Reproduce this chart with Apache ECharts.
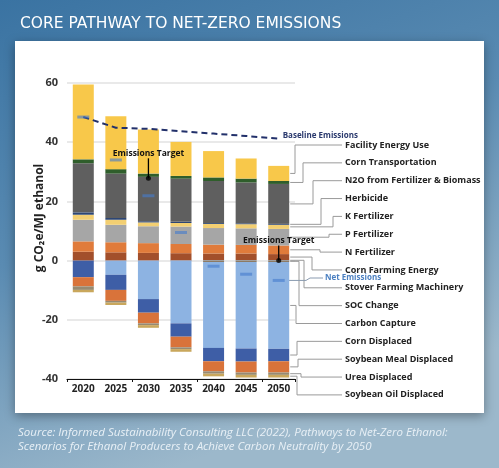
<!DOCTYPE html>
<html>
<head>
<meta charset="utf-8">
<script src="https://cdn.jsdelivr.net/npm/echarts@6/dist/echarts.min.js"></script>
<style>
html, body { margin: 0; padding: 0; }
#chart { width: 499px; height: 468px; }
</style>
</head>
<body>
<div id="chart"></div>
<script>
var years = ['2020', '2025', '2030', '2035', '2040', '2045', '2050'];

// emissions (positive), listed from the bottom of the stack up
var stoverMachinery   = [0, 0, 0, 0, 0.2, 0.2, 0.2];
var cornFarmingEnergy = [3.0, 2.8, 2.6, 2.5, 2.2, 2.2, 2.0];
var nFertilizer       = [3.5, 3.4, 3.3, 3.1, 3.0, 2.9, 2.9];
var pFertilizer       = [7.3, 5.9, 5.7, 5.9, 5.6, 5.6, 5.6];
var kFertilizer       = [1.7, 1.7, 1.3, 1.2, 1.4, 1.4, 1.4];
var herbicide         = [0.8, 0.6, 0.4, 0.4, 0.3, 0.3, 0.3];
var n2o               = [16.6, 15.0, 15.0, 14.6, 14.2, 13.8, 13.5];
var cornTransport     = [1.3, 1.5, 1.1, 0.9, 1.2, 1.3, 1.0];
var facilityEnergy    = [25.3, 17.9, 14.9, 11.5, 8.9, 6.8, 5.1];

// credits (negative), listed from zero downwards
var socChange         = [0, 0, 0, 0, -0.5, -0.5, -0.5];
var carbonCapture     = [0, -4.8, -13.0, -21.2, -29.0, -29.2, -29.3];
var cornDisplaced     = [-5.6, -5.1, -4.6, -4.5, -4.5, -4.4, -4.2];
var soyMealDisplaced  = [-3.1, -3.7, -3.6, -3.6, -3.4, -3.7, -3.8];
var ureaDisplaced     = [-1.2, -0.6, -0.6, -0.6, -0.8, -0.8, -0.8];
var soyOilDisplaced   = [-0.8, -0.8, -0.9, -0.9, -0.9, -0.9, -0.9];

var netEmissions      = [48.5, 34.0, 21.9, 9.5, -1.9, -4.6, -6.7];
var baselineEmissions = [48.5, 44.9, 44.5, 43.7, 42.9, 42.1, 41.2];
var targetYears  = ['2030', '2050'];
var targetValues = [27.8, 0];
var yTicks = [-40, -20, 0, 20, 40, 60];

var segments = [
  { name: 'Stover Farming Machinery', data: stoverMachinery, color: '#8a96a8' },
  { name: 'Corn Farming Energy', data: cornFarmingEnergy, color: '#a24f2b' },
  { name: 'N Fertilizer', data: nFertilizer, color: '#e07b3b' },
  { name: 'P Fertilizer', data: pFertilizer, color: '#a6a6a6' },
  { name: 'K Fertilizer', data: kFertilizer, color: '#f3cf72' },
  { name: 'Herbicide', data: herbicide, color: '#2d4674' },
  { name: 'N2O from Fertilizer & Biomass', data: n2o, color: '#5f5f5f' },
  { name: 'Corn Transportation', data: cornTransport, color: '#2f5e2b' },
  { name: 'Facility Energy Use', data: facilityEnergy, color: '#f8c84a' },
  { name: 'SOC Change', data: socChange, color: '#8c7a64' },
  { name: 'Carbon Capture', data: carbonCapture, color: '#8db3e2' },
  { name: 'Corn Displaced', data: cornDisplaced, color: '#3e5ea6' },
  { name: 'Soybean Meal Displaced', data: soyMealDisplaced, color: '#d9733a' },
  { name: 'Urea Displaced', data: ureaDisplaced, color: '#978a72' },
  { name: 'Soybean Oil Displaced', data: soyOilDisplaced, color: '#c9a75c' }
];

// order of the labels down the right side, with the x of each leader elbow
var labelOrder = ['Facility Energy Use', 'Corn Transportation', 'N2O from Fertilizer & Biomass',
  'Herbicide', 'K Fertilizer', 'P Fertilizer', 'N Fertilizer', 'Corn Farming Energy',
  'Stover Farming Machinery', 'SOC Change', 'Carbon Capture', 'Corn Displaced',
  'Soybean Meal Displaced', 'Urea Displaced', 'Soybean Oil Displaced'];
var elbowX = [295, 303, 313, 321, 333, 329, 320, 312, 304, 299, 296, 297, 298, 301, 297];

var BAR_W = 21;
var chart = echarts.init(document.getElementById('chart'));

var series = segments.map(function (s) {
  return {
    type: 'bar', name: s.name, stack: 'total', barWidth: BAR_W,
    data: s.data, itemStyle: { color: s.color }
  };
});
series.push({
  type: 'line', name: 'Baseline Emissions', data: baselineEmissions,
  symbol: 'none', z: 5,
  lineStyle: { color: '#22306a', width: 2, type: [6, 4] }
});
series.push({
  type: 'scatter', name: 'Net Emissions', data: netEmissions, z: 6,
  symbol: 'rect', symbolSize: [12, 3],
  itemStyle: { color: 'rgba(70,125,205,0.78)' }
});
series.push({
  type: 'scatter', name: 'Emissions Target', z: 7,
  data: targetYears.map(function (y, i) { return [y, targetValues[i]]; }),
  symbolSize: 5, itemStyle: { color: '#000' }
});

chart.setOption({
  backgroundColor: {
    type: 'linear', x: 0, y: 0, x2: 0.35, y2: 1,
    colorStops: [
      { offset: 0, color: '#3a73a2' },
      { offset: 0.5, color: '#5a8bb2' },
      { offset: 1, color: '#9cb8cb' }
    ]
  },
  title: {
    text: 'CORE PATHWAY TO NET-ZERO EMISSIONS', left: 15, top: 11,
    textStyle: { color: '#fff', fontSize: 15.5, fontWeight: 'normal', fontFamily: 'DejaVu Sans' }
  },
  grid: { left: 67, right: 204, top: 83, bottom: 89 },
  xAxis: [{
    type: 'category', data: years, position: 'bottom',
    axisLine: { show: false }, axisTick: { show: false },
    axisLabel: { color: '#222', fontSize: 10, fontWeight: 'bold', fontFamily: 'Open Sans', margin: 5 }
  }, {
    type: 'category', data: years, position: 'bottom',
    axisLine: { show: true, onZero: true, lineStyle: { color: '#111', width: 1.2 } },
    axisTick: { show: true, length: 3, lineStyle: { color: '#111' } },
    axisLabel: { show: false }
  }],
  yAxis: {
    type: 'value', min: yTicks[0], max: yTicks[yTicks.length - 1], interval: 20,
    axisLine: { show: false }, axisTick: { show: false },
    axisLabel: { color: '#333', fontSize: 11, fontWeight: 'bold', fontFamily: 'Open Sans', margin: 9 },
    splitLine: { lineStyle: { color: '#e2e2e2', width: 1.5 } }
  },
  graphic: [{
    type: 'rect', z: -10,
    shape: { x: 15, y: 41, width: 469, height: 372 },
    style: { fill: '#fff', shadowBlur: 10, shadowOffsetY: 3, shadowColor: 'rgba(0,0,0,0.35)' }
  }, {
    type: 'text', x: 40, y: 218, rotation: Math.PI / 2,
    style: {
      text: 'g CO\u2082e/MJ ethanol', fill: '#222', font: 'bold 12px "Open Sans"',
      align: 'center', verticalAlign: 'middle'
    }
  }, {
    type: 'text', x: 18, y: 426,
    style: {
      text: 'Source: Informed Sustainability Consulting LLC (2022), Pathways to Net-Zero Ethanol:\nScenarios for Ethanol Producers to Achieve Carbon Neutrality by 2050',
      fill: '#e8f0f6', font: 'italic 11.5px "Open Sans"', lineHeight: 14
    }
  }],
  series: series
});

// annotations placed from the chart's own scales
var extra = [];
var last = years.length - 1;
var lastX = chart.convertToPixel({ xAxisIndex: 0, yAxisIndex: 0 }, [last, 0])[0];
var barRight = lastX + BAR_W / 2 + 1;
var posSum = 0, negSum = 0, mids = {};
segments.forEach(function (s) {
  var v = s.data[last];
  if (v >= 0) { mids[s.name] = posSum + v / 2; posSum += v; }
  else { mids[s.name] = negSum + v / 2; negSum += v; }
});
labelOrder.forEach(function (name, i) {
  var ly = 145 + i * 17.85;
  var sy = chart.convertToPixel({ xAxisIndex: 0, yAxisIndex: 0 }, [last, mids[name]])[1];
  extra.push({
    type: 'polyline', silent: true,
    shape: { points: [[barRight, sy], [elbowX[i], sy], [elbowX[i], ly], [342, ly]] },
    style: { stroke: '#9a9a9a', lineWidth: 1, fill: null }
  });
  extra.push({
    type: 'text', x: 345, y: ly,
    style: { text: name, fill: '#222', font: 'bold 9px "Open Sans"', verticalAlign: 'middle' }
  });
});

// baseline label
var bp = chart.convertToPixel({ xAxisIndex: 0, yAxisIndex: 0 }, [last, baselineEmissions[last]]);
extra.push({
  type: 'text', x: bp[0] + 4, y: bp[1] - 3,
  style: { text: 'Baseline Emissions', fill: '#2b3a6e', font: 'bold 8px "Open Sans"', verticalAlign: 'middle' }
});

// net emissions label
var np = chart.convertToPixel({ xAxisIndex: 0, yAxisIndex: 0 }, [last, netEmissions[last]]);
extra.push({
  type: 'polyline', silent: true,
  shape: { points: [[np[0] + 6, np[1]], [306, np[1]], [310, 278], [323, 278]] },
  style: { stroke: '#8a9bb0', lineWidth: 1, fill: null }
});
extra.push({
  type: 'text', x: 325, y: 278,
  style: { text: 'Net Emissions', fill: '#4a7fc1', font: 'bold 8px "Open Sans"', verticalAlign: 'middle' }
});

// emissions target call-outs (label height above the dot differs per call-out)
var targetGap = [25, 20];
targetYears.forEach(function (y, i) {
  var p = chart.convertToPixel({ xAxisIndex: 0, yAxisIndex: 0 }, [y, targetValues[i]]);
  extra.push({
    type: 'line', silent: true, z: 8,
    shape: { x1: p[0], y1: p[1] - targetGap[i] + 5, x2: p[0], y2: p[1] },
    style: { stroke: '#000', lineWidth: 1.3 }
  });
  extra.push({
    type: 'text', x: p[0], y: p[1] - targetGap[i], z: 8,
    style: { text: 'Emissions Target', fill: '#111', font: 'bold 8.5px "Open Sans"', align: 'center', verticalAlign: 'middle' }
  });
});

chart.setOption({ graphic: chart.getOption().graphic[0].elements.concat(extra) }, { replaceMerge: ['graphic'] });
</script>
</body>
</html>
